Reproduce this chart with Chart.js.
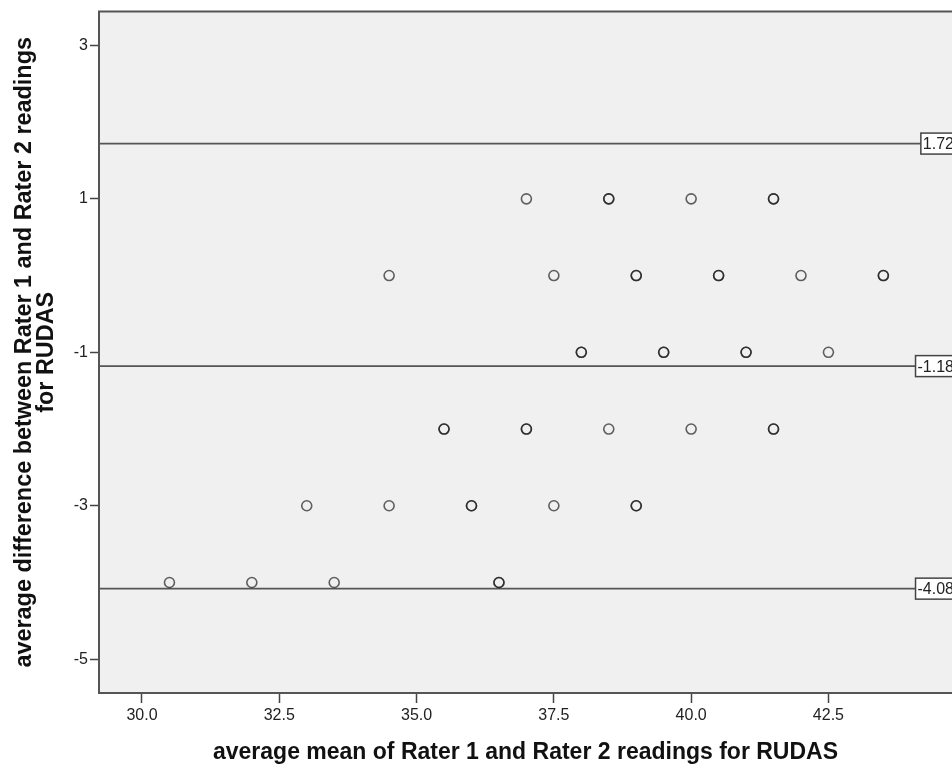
<!DOCTYPE html>
<html>
<head>
<meta charset="utf-8">
<script src="https://cdn.jsdelivr.net/npm/chart.js@4/dist/chart.umd.min.js"></script>
<style>
html,body{margin:0;padding:0;background:#fff;overflow:hidden;}
#wrap{width:952px;height:765px;position:relative;}
#c{display:block;}
</style>
</head>
<body>
<div id="wrap"><canvas id="c" width="952" height="765"></canvas></div>
<script>
// Bland-Altman data: mean of raters (x) and difference (y); repeated pairs = overlapping observations
const meanValues = [
  37.0, 38.5, 38.5, 40.0, 41.5, 41.5,
  34.5, 37.5, 39.0, 39.0, 40.5, 40.5, 42.0, 43.5, 43.5,
  38.0, 38.0, 39.5, 39.5, 41.0, 41.0, 42.5,
  35.5, 35.5, 37.0, 37.0, 38.5, 40.0, 41.5, 41.5,
  33.0, 34.5, 36.0, 36.0, 37.5, 39.0, 39.0,
  30.5, 32.0, 33.5, 36.5, 36.5
];
const diffValues = [
  1, 1, 1, 1, 1, 1,
  0, 0, 0, 0, 0, 0, 0, 0, 0,
  -1, -1, -1, -1, -1, -1, -1,
  -2, -2, -2, -2, -2, -2, -2, -2,
  -3, -3, -3, -3, -3, -3, -3,
  -4, -4, -4, -4, -4
];
const refLineValues = [1.72, -1.18, -4.08];
const refLineLabels = ['1.72', '-1.18', '-4.08'];
const xTickValues = [30.0, 32.5, 35.0, 37.5, 40.0, 42.5];
const yTickValues = [3, 1, -1, -3, -5];
const xTitle = 'average mean of Rater 1 and Rater 2 readings for RUDAS';
const yTitle = ['average difference between Rater 1 and Rater 2 readings', 'for RUDAS'];

const X_MIN = 29.217, X_MAX = 44.75, Y_MIN = -5.44, Y_MAX = 3.44;
const FONT = "'Liberation Sans', Arial, sans-serif";

const points = meanValues.map((m, i) => ({x: m, y: diffValues[i]}));

const datasets = [{
  type: 'scatter',
  data: points,
  pointRadius: 5,
  pointBorderWidth: 1.6,
  pointBackgroundColor: 'rgba(0,0,0,0)',
  pointBorderColor: 'rgba(25,25,25,0.68)',
  pointHoverRadius: 5,
  order: 1
}];
refLineValues.forEach(v => {
  datasets.push({
    type: 'line',
    data: [{x: X_MIN, y: v}, {x: X_MAX, y: v}],
    borderColor: '#555',
    borderWidth: 1.6,
    pointRadius: 0,
    fill: false,
    order: 2
  });
});

const bgPlugin = {
  id: 'plotBg',
  beforeDraw(chart) {
    const {ctx, chartArea: a} = chart;
    ctx.save();
    ctx.fillStyle = '#f0f0f0';
    ctx.fillRect(a.left, a.top, a.right - a.left, a.bottom - a.top);
    ctx.restore();
  },
  afterDraw(chart) {
    const {ctx, chartArea: a, scales} = chart;
    ctx.save();
    // top border
    ctx.strokeStyle = '#555';
    ctx.lineWidth = 2;
    ctx.beginPath();
    ctx.moveTo(a.left - 1, a.top);
    ctx.lineTo(a.right + 2, a.top);
    ctx.stroke();
    // reference line labels
    ctx.font = '16px ' + FONT;
    ctx.textBaseline = 'middle';
    ctx.textAlign = 'left';
    refLineValues.forEach((v, i) => {
      const y = scales.y.getPixelForValue(v);
      const txt = refLineLabels[i];
      const w = ctx.measureText(txt).width;
      const right = 956;
      const left = right - w - 4;
      ctx.fillStyle = '#fff';
      ctx.fillRect(left, y - 10.5, right - left, 21);
      ctx.strokeStyle = '#444';
      ctx.lineWidth = 1.5;
      ctx.strokeRect(left, y - 10.5, right - left, 21);
      ctx.fillStyle = '#222';
      ctx.fillText(txt, left + 2, y + 1);
    });
    ctx.restore();
  }
};

new Chart(document.getElementById('c'), {
  data: {datasets},
  plugins: [bgPlugin],
  options: {
    responsive: false,
    maintainAspectRatio: false,
    animation: false,
    events: [],
    layout: {autoPadding: false, padding: {top: 11, right: 0, left: 0, bottom: 0}},
    plugins: {legend: {display: false}, tooltip: {enabled: false}},
    scales: {
      x: {
        type: 'linear',
        position: 'bottom',
        min: X_MIN,
        max: X_MAX,
        afterBuildTicks: s => { s.ticks = xTickValues.map(v => ({value: v})); },
        afterFit: s => { s.height = 72; s.paddingRight = 0; s.paddingLeft = 0; },
        ticks: {
          color: '#222',
          font: {family: FONT, size: 16},
          padding: 3,
          autoSkip: false,
          maxRotation: 0,
          callback: v => Number(v).toFixed(1)
        },
        grid: {drawOnChartArea: false, drawTicks: true, tickLength: 10, tickColor: '#444', tickWidth: 1.5},
        border: {display: true, color: '#555', width: 2},
        title: {
          display: true,
          text: xTitle,
          color: '#111',
          font: {family: FONT, size: 23, weight: 'bold', lineHeight: 1.0},
          padding: {top: 0, bottom: 1}
        }
      },
      y: {
        type: 'linear',
        position: 'left',
        min: Y_MIN,
        max: Y_MAX,
        afterBuildTicks: s => { s.ticks = yTickValues.map(v => ({value: v})); },
        afterFit: s => { s.width = 99; },
        ticks: {
          color: '#222',
          font: {family: FONT, size: 16},
          padding: 2,
          callback: v => String(v)
        },
        grid: {drawOnChartArea: false, drawTicks: true, tickLength: 9, tickColor: '#444', tickWidth: 1.5},
        border: {display: true, color: '#555', width: 2},
        title: {
          display: true,
          text: yTitle,
          color: '#111',
          font: {family: FONT, size: 23.4, weight: 'bold', lineHeight: 0.92},
          padding: {top: 14, bottom: 0}
        }
      }
    }
  }
});
</script>
</body>
</html>
